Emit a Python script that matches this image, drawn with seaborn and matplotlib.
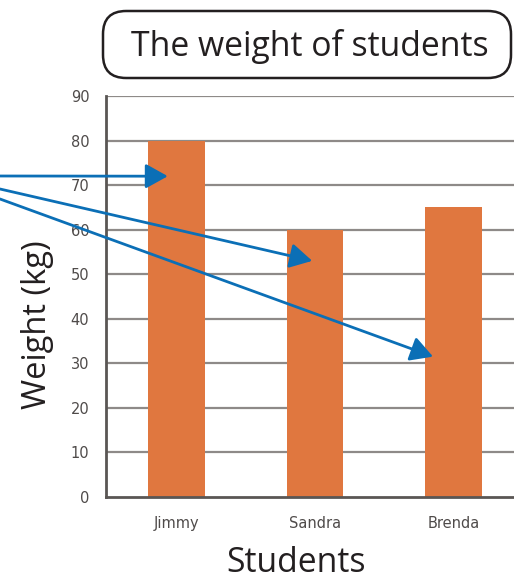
import matplotlib
matplotlib.use("Agg")
import matplotlib.pyplot as plt
import seaborn as sns
import pandas as pd
from matplotlib.patches import FancyBboxPatch

students = ["Jimmy", "Sandra", "Brenda"]
weights = [80, 60, 65]
y_ticks = [0, 10, 20, 30, 40, 50, 60, 70, 80, 90]
# arrow targets (data coords) and start points (figure pixels from bottom-left)
arrow_targets = [(-0.06, 72.0), (0.98, 53.0), (1.85, 31.5)]
arrow_starts = [(0, 405), (0, 392), (0, 382)]

sns.set_theme(style="white")
plt.rcParams["font.family"] = ["Open Sans", "DejaVu Sans"]

W, H = 514, 581
fig = plt.figure(figsize=(W / 100, H / 100), dpi=100)
ax = fig.add_axes([106 / W, 1 - 497 / H, 1 - 106 / W + 0.01, (497 - 96) / H])

df = pd.DataFrame({"Student": students, "Weight": weights})
bar_color = "#e0773f"
sns.barplot(data=df, x="Student", y="Weight", color=bar_color, saturation=1,
            width=0.41, linewidth=0, ax=ax, zorder=3)

ax.set_ylim(0, 90)
ax.set_xlim(-0.505, 2.47)
ax.set_yticks(y_ticks)
for v in y_ticks[1:]:
    ax.axhline(v, color="#8e8a88", lw=1.6, zorder=1)
ax.grid(False)

for s in ["top", "right"]:
    ax.spines[s].set_visible(False)
for s in ["left", "bottom"]:
    ax.spines[s].set_color("#5a5654")
    ax.spines[s].set_linewidth(2)
    ax.spines[s].set_zorder(4)

ax.tick_params(axis="y", length=0, pad=12, labelsize=10.5, labelcolor="#4f4b4a")
ax.tick_params(axis="x", length=0, pad=14, labelsize=10.5, labelcolor="#4f4b4a")
for lab in ax.get_xticklabels() + ax.get_yticklabels():
    lab.set_family("DejaVu Sans")
ax.set_xlabel("")
ax.set_ylabel("")

# Big labels
fig.text(296 / W, 1 - 563 / H, "Students", ha="center", va="center",
         fontsize=24.3, color="#231f20")
fig.text(37 / W, 1 - 325 / H, "Weight (kg)", ha="center", va="center",
         rotation=90, fontsize=23.5, color="#231f20")

# Title box
box = FancyBboxPatch((103 / W, 1 - 78 / H), (511 - 103) / W, 67 / H,
                     boxstyle="round,pad=0,rounding_size=0.045",
                     transform=fig.transFigure, facecolor="white",
                     edgecolor="#231f20", lw=1.8, mutation_aspect=W / H)
fig.patches.append(box)
fig.text(310 / W, 1 - 46 / H, "The weight of students", ha="center", va="center",
         fontsize=24.3, color="#231f20")

# Arrows
for (tx, ty), (sx, sy) in zip(arrow_targets, arrow_starts):
    ax.annotate("", xy=(tx, ty), xycoords="data",
                xytext=(sx, sy), textcoords="figure pixels",
                arrowprops=dict(arrowstyle="-|>,head_length=0.9,head_width=0.5",
                                color="#0b6fb6", lw=2, shrinkA=0, shrinkB=0,
                                mutation_scale=15),
                annotation_clip=False, zorder=6)

fig.savefig("out.png", dpi=100)
